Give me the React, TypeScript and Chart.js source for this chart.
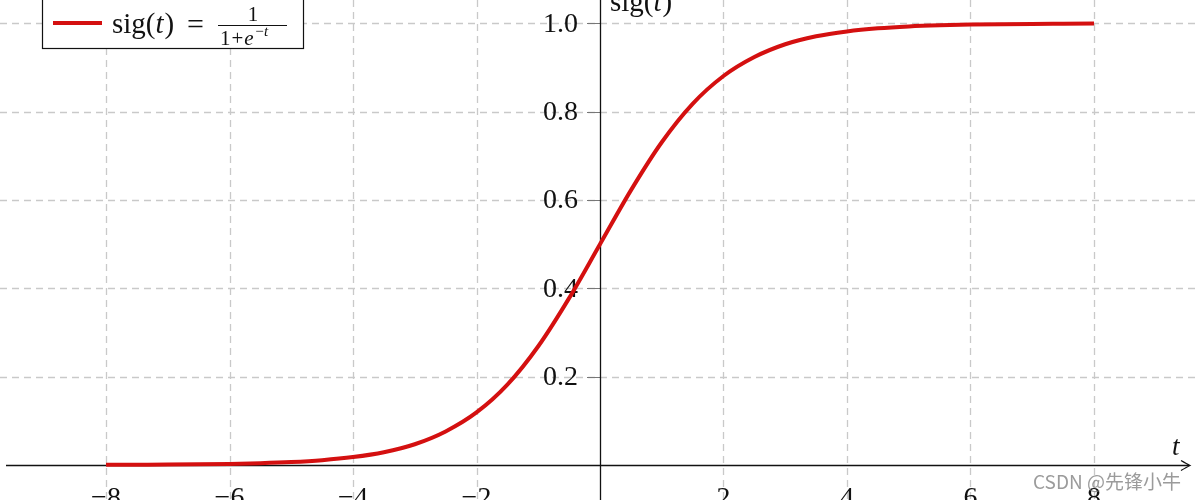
import React, { useEffect, useRef } from "react";
import { Chart, registerables } from "chart.js";

Chart.register(...registerables);

// t values and sig(t) values
const T_VALUES = [
  -8, -7.5, -7, -6.5, -6, -5.5, -5, -4.5, -4, -3.5, -3, -2.5, -2, -1.5, -1, -0.5,
  0, 0.5, 1, 1.5, 2, 2.5, 3, 3.5, 4, 4.5, 5, 5.5, 6, 6.5, 7, 7.5, 8,
];
const SIG_VALUES = [
  0.0003, 0.0006, 0.0009, 0.0015, 0.0025, 0.0041, 0.0067, 0.011, 0.018, 0.029,
  0.047, 0.076, 0.119, 0.182, 0.269, 0.378, 0.5, 0.622, 0.731, 0.818, 0.881,
  0.924, 0.953, 0.971, 0.982, 0.989, 0.9933, 0.9959, 0.9975, 0.9985, 0.9991,
  0.9994, 0.9997,
];
const X_GRID = [-8, -6, -4, -2, 2, 4, 6, 8];
const X_TICK_LABELS = ["\u22128", "\u22126", "\u22124", "\u22122", "2", "4", "6", "8"];
const Y_GRID = [0.2, 0.4, 0.6, 0.8, 1.0];
const Y_TICK_LABELS = ["0.2", "0.4", "0.6", "0.8", "1.0"];

const SERIF = '"Liberation Serif", "DejaVu Serif", serif';
const RED = "rgb(212,16,16)";

const decorPlugin = {
  id: "decor",
  beforeDatasetsDraw(chart: any) {
    const ctx = chart.ctx;
    const xs = chart.scales.x;
    const ys = chart.scales.y;
    const W = chart.width;
    const H = chart.height;
    const x0 = xs.getPixelForValue(0);
    const y0 = ys.getPixelForValue(0);
    ctx.save();
    // dashed grid
    ctx.strokeStyle = "#c9c9c9";
    ctx.lineWidth = 1.3;
    ctx.setLineDash([7, 5]);
    X_GRID.forEach((v) => {
      const px = Math.round(xs.getPixelForValue(v)) + 0.5;
      ctx.beginPath();
      ctx.moveTo(px, 0);
      ctx.lineTo(px, H);
      ctx.stroke();
    });
    Y_GRID.forEach((v) => {
      const py = Math.round(ys.getPixelForValue(v)) + 0.5;
      ctx.beginPath();
      ctx.moveTo(0, py);
      ctx.lineTo(W, py);
      ctx.stroke();
    });
    ctx.setLineDash([]);
    // y tick marks
    ctx.strokeStyle = "#777";
    ctx.lineWidth = 1;
    Y_GRID.forEach((v) => {
      const py = Math.round(ys.getPixelForValue(v)) + 0.5;
      ctx.beginPath();
      ctx.moveTo(x0 - 13, py);
      ctx.lineTo(x0, py);
      ctx.stroke();
    });
    // axes
    ctx.strokeStyle = "#111";
    ctx.lineWidth = 1.3;
    ctx.beginPath();
    ctx.moveTo(Math.round(x0) + 0.5, 0);
    ctx.lineTo(Math.round(x0) + 0.5, H);
    ctx.stroke();
    const ay = Math.round(y0) + 0.5;
    const tip = 1190;
    ctx.beginPath();
    ctx.moveTo(6, ay);
    ctx.lineTo(tip - 1, ay);
    ctx.stroke();
    // arrow head
    ctx.beginPath();
    ctx.moveTo(tip - 9, ay - 5);
    ctx.quadraticCurveTo(tip - 3, ay - 1.5, tip, ay);
    ctx.quadraticCurveTo(tip - 3, ay + 1.5, tip - 9, ay + 5);
    ctx.stroke();

    // tick labels
    ctx.fillStyle = "#111";
    ctx.font = `28px ${SERIF}`;
    ctx.textAlign = "right";
    ctx.textBaseline = "middle";
    Y_GRID.forEach((v, i) => {
      ctx.fillText(Y_TICK_LABELS[i], x0 - 22, ys.getPixelForValue(v) + 1);
    });
    ctx.textAlign = "center";
    ctx.textBaseline = "alphabetic";
    X_GRID.forEach((v, i) => {
      ctx.fillText(X_TICK_LABELS[i], xs.getPixelForValue(v), 506);
    });
    ctx.restore();
  },
  afterDatasetsDraw(chart: any) {
    const ctx = chart.ctx;
    ctx.save();
    ctx.fillStyle = "#111";
    ctx.textBaseline = "alphabetic";
    ctx.textAlign = "left";

    const drawSig = (x: number, y: number, size: number) => {
      ctx.font = `${size}px ${SERIF}`;
      ctx.fillText("sig(", x, y);
      let cx = x + ctx.measureText("sig(").width;
      ctx.font = `italic ${size}px ${SERIF}`;
      ctx.fillText("t", cx, y);
      cx += ctx.measureText("t").width + 1;
      ctx.font = `${size}px ${SERIF}`;
      ctx.fillText(")", cx, y);
      cx += ctx.measureText(")").width;
      return cx;
    };

    // y axis title
    drawSig(610, 11, 29);
    // x axis title
    ctx.font = `italic 27px ${SERIF}`;
    ctx.fillText("t", 1172, 455);

    // legend box
    ctx.fillStyle = "#fff";
    ctx.fillRect(42, -5, 261, 53);
    ctx.strokeStyle = "#111";
    ctx.lineWidth = 1.2;
    ctx.strokeRect(42.5, -5, 261, 53.5);
    ctx.strokeStyle = RED;
    ctx.lineWidth = 4;
    ctx.beginPath();
    ctx.moveTo(53, 23);
    ctx.lineTo(102, 23);
    ctx.stroke();
    ctx.fillStyle = "#111";
    drawSig(112, 33, 29);
    ctx.font = `30px ${SERIF}`;
    ctx.fillText("=", 187, 34);
    // fraction
    ctx.strokeStyle = "#111";
    ctx.lineWidth = 1.2;
    ctx.beginPath();
    ctx.moveTo(218, 25.5);
    ctx.lineTo(287, 25.5);
    ctx.stroke();
    ctx.font = `21px ${SERIF}`;
    ctx.textAlign = "center";
    ctx.fillText("1", 253, 21);
    ctx.textAlign = "left";
    let dx = 220;
    ctx.fillText("1", dx, 45);
    dx += ctx.measureText("1").width + 1;
    ctx.fillText("+", dx, 45);
    dx += ctx.measureText("+").width + 1;
    ctx.font = `italic 21px ${SERIF}`;
    ctx.fillText("e", dx, 45);
    dx += ctx.measureText("e").width + 1.5;
    ctx.font = `15px ${SERIF}`;
    ctx.fillText("\u2212", dx, 36);
    dx += ctx.measureText("\u2212").width + 0.5;
    ctx.font = `italic 15px ${SERIF}`;
    ctx.fillText("t", dx, 36);

    // watermark
    ctx.font = '19px "Noto Sans CJK SC", "Noto Sans", sans-serif';
    ctx.fillStyle = "rgba(130,130,130,0.8)";
    ctx.fillText("CSDN @先锋小牛", 1033, 489);
    ctx.restore();
  },
};

export default function App() {
  const ref = useRef<HTMLCanvasElement | null>(null);
  useEffect(() => {
    if (!ref.current) return;
    const chart = new Chart(ref.current, {
      type: "line",
      data: {
        datasets: [
          {
            label: "sig(t)",
            data: T_VALUES.map((t, i) => ({ x: t, y: SIG_VALUES[i] })),
            borderColor: RED,
            borderWidth: 4,
            pointRadius: 0,
            fill: false,
            cubicInterpolationMode: "monotone",
          },
        ],
      },
      options: {
        animation: false,
        responsive: false,
        devicePixelRatio: 1,
        layout: { padding: 0 },
        plugins: { legend: { display: false }, tooltip: { enabled: false } },
        scales: {
          x: { type: "linear", min: -9.717, max: 9.717, display: false },
          y: { type: "linear", min: -0.0793, max: 1.0532, display: false },
        },
      },
      plugins: [decorPlugin],
    });
    return () => chart.destroy();
  }, []);
  return (
    <div style={{ position: "fixed", left: 0, top: 0, width: 1200, height: 500, background: "#fff" }}>
      <canvas ref={ref} width={1200} height={500} style={{ display: "block" }} />
    </div>
  );
}
